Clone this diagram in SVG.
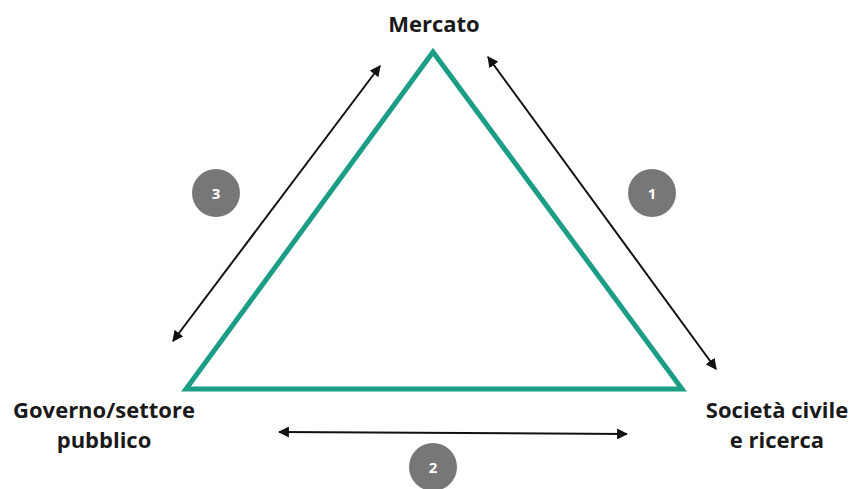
<svg xmlns="http://www.w3.org/2000/svg" width="854" height="489" viewBox="0 0 854 489">
<defs>
<marker id="ah" viewBox="0 0 10 10" refX="9" refY="5" markerWidth="5.5" markerHeight="5.5" orient="auto-start-reverse" markerUnits="strokeWidth">
<path d="M0,0 L10,5 L0,10 z" fill="#111"/>
</marker>
<style>
.lbl{font-family:"Open Sans","Liberation Sans",sans-serif;font-weight:bold;font-size:22px;fill:#1a1a1a;text-anchor:middle}
.num{font-family:"Open Sans","Liberation Sans",sans-serif;font-weight:bold;font-size:15px;fill:#fff;text-anchor:middle}
.badge{fill:#777}
.conn{stroke:#111;stroke-width:2;fill:none;marker-start:url(#ah);marker-end:url(#ah)}
</style>
</defs>
<rect width="854" height="489" fill="#fff"/>
<g id="triangle">
<polygon points="433,52 186,389 682,389" fill="none" stroke="#1b9e85" stroke-width="5" stroke-linejoin="miter"/>
</g>
<g id="connectors">
<line class="conn" x1="380" y1="66" x2="173" y2="341"/>
<line class="conn" x1="488" y1="57" x2="716" y2="369"/>
<line class="conn" x1="279" y1="432" x2="627" y2="434"/>
</g>
<g id="node-mercato"><text class="lbl" x="434" y="32">Mercato</text></g>
<g id="node-governo"><text class="lbl" x="104" y="418">Governo/settore</text><text class="lbl" x="104" y="448">pubblico</text></g>
<g id="node-societa"><text class="lbl" x="777" y="418">Società civile</text><text class="lbl" x="777" y="448">e ricerca</text></g>
<g id="badge-3"><circle class="badge" cx="216" cy="193" r="24"/><text class="num" x="216" y="198.5">3</text></g>
<g id="badge-1"><circle class="badge" cx="652" cy="193" r="24"/><text class="num" x="652" y="198.5">1</text></g>
<g id="badge-2"><circle class="badge" cx="433" cy="467" r="24"/><text class="num" x="433" y="472.5">2</text></g>
</svg>
